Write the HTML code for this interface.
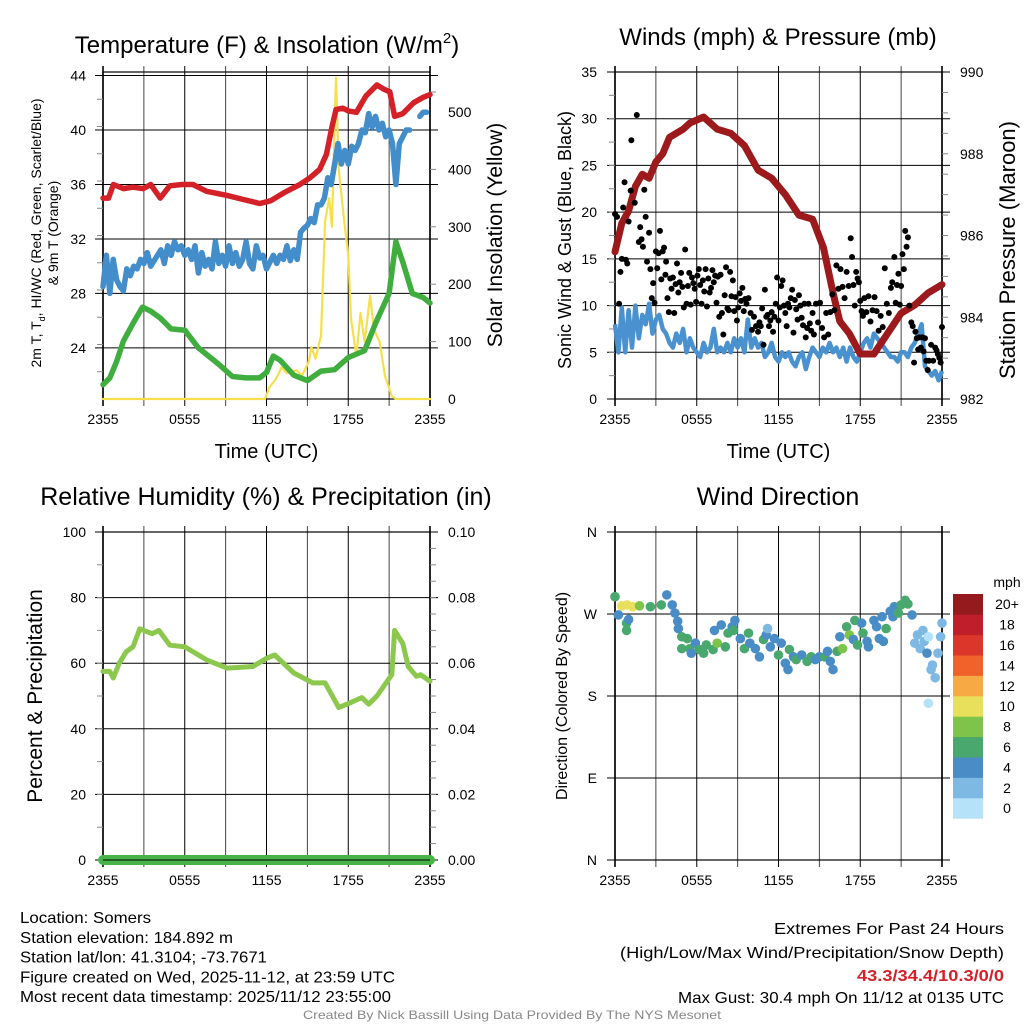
<!DOCTYPE html>
<html><head><meta charset="utf-8">
<style>
html,body{margin:0;padding:0;background:#fff;}
svg{display:block;font-family:"Liberation Sans",sans-serif;}
</style></head>
<body>
<svg id="fig" width="1024" height="1024" viewBox="0 0 1024 1024" xmlns="http://www.w3.org/2000/svg">
<g id="layer"></g>
</svg>
<script>
// ---------- Temperature panel data (hours since 2355 UTC) ----------
const redT = [0,0.4,0.76,1.5,2.2,2.96,3.5,4.2,4.9,5.8,6.6,7.6,9.1,10.3,11.5,12.3,13.3,14.45,15.2,15.9,16.4,16.8,17.1,17.6,18.0,18.6,19.3,20.1,20.6,21.05,21.4,22.0,22.8,23.5,24];
const redV = [35,35,36,35.7,35.8,35.7,36,35,35.9,36,36,35.5,35.2,34.9,34.6,34.8,35.4,36,36.5,37.1,38.2,40.2,41.5,41.6,41.4,41.3,42.5,43.3,43.0,42.8,41,41.2,42,42.4,42.6];
const blueTemp = [28.5,30.8,28,30.5,29,28.5,28.2,29.8,29.3,30,29.8,30.5,30.2,31,30,30.4,30.8,31.2,30.2,31.5,30.8,31.8,31.2,31.5,30.8,31.2,30.5,31.5,29.5,31,30,30.5,29.8,31.8,30.2,30.8,30,31.5,30.2,31,30,30.5,31.8,30.2,29.8,31.5,30.6,30.8,29.8,30.3,30.8,30.2,30.8,30.5,31.5,30.4,31.2,30.5,32.5,32.8,33,33.5,33.2,34.5,34.5,35,36.5,36,37.5,39,37.5,38.5,37.5,38.8,38.5,39,40,39.8,41.2,40.2,41,40,40.5,39.5,40,39,36,39,39.5,40,40,null,null,41,41.3,41.3,null];
const greenT = [0,0.5,1,1.5,2.2,2.9,3.5,4.2,5,6,7,8.5,9.5,10.5,11.5,12,12.5,13,14,15,16,17,18,19.2,20,21,21.5,22,22.7,23.5,24];
const greenV = [21.3,21.8,23,24.5,25.8,27,26.7,26.2,25.4,25.3,24,22.8,21.9,21.8,21.8,22.2,23.4,23.1,22,21.6,22.3,22.4,23.3,23.8,25.8,28,31.8,30.3,28,27.7,27.3];
const solarT = [0,11.9,12.2,12.7,13.1,13.5,14.2,14.6,15.1,15.3,15.6,16,16.3,16.6,16.8,17.1,17.3,17.7,18.0,18.2,18.6,18.9,19.2,19.6,19.9,20.3,20.7,21.2,21.5,24];
const solarV = [0,0,20,35,55,45,50,40,65,90,70,110,310,350,300,560,400,310,250,140,75,150,100,180,120,100,40,5,0,0];
const tempTicks = [24,28,32,36,40,44];
const solarTicks = [0,100,200,300,400,500];
const timeLabels = ["2355","0555","1155","1755","2355"];

// ---------- Winds panel data ----------
const presT = [0,0.5,1,1.5,2,2.5,3,3.5,4,5,5.5,6.5,7.5,8.5,9.5,10.5,11.5,12.5,13.5,14.5,15.3,16,16.5,17.2,18,19,20,21,22,23,24];
const presV = [985.6,986.3,986.6,987.2,987.5,987.4,987.8,988,988.4,988.6,988.75,988.9,988.6,988.5,988.2,987.6,987.4,987.0,986.5,986.4,985.7,984.6,983.9,983.6,983.1,983.1,983.6,984.1,984.3,984.6,984.8];
const windV = [8,5,9.8,5,9.5,5.5,10,6.5,9,8,10.2,7,8.5,9,7.5,7,6,5.5,7,6,7.5,5,6.5,5.5,5,4.5,6,5,5.5,7.5,5,5.5,5,6,5,6.5,5.5,6.5,5,8.5,5.5,6.5,5.5,6,4.5,5,6,4.5,4,5,4.5,5,4,3.5,4.5,5,3.2,4.5,5.5,5,4.5,5.5,5,6,5,5.5,4.5,5.5,4,5.5,4.5,4,5,6,6.5,5.5,7,6.5,6,5.5,5,4.5,4.5,4,5,5,4.5,5.5,6,7,8,3.5,3,2.5,3,2,3];
const gustT = [0,0.15,0.3,0.4,0.5,0.6,0.7,0.8,0.9,1.0,1.15,1.2,1.45,1.6,1.75,1.85,1.95,2.05,2.15,2.25,2.35,2.5,2.6,2.7,2.8,2.9,3.0,3.1,3.2,3.3,3.4,3.5,3.6,3.7,3.75,3.85,3.95,4.05,4.15,4.25,4.35,4.45,4.55,4.65,4.75,4.85,4.95,5.05,5.15,5.25,5.35,5.45,5.55,5.65,5.75,5.85,5.95,6.05,6.15,6.25,6.35,6.45,6.55,6.65,6.75,6.85,6.95,7.05,7.15,7.25,7.35,7.45,7.55,7.65,7.75,7.85,7.95,8.05,8.15,8.25,8.35,8.45,8.55,8.65,8.75,8.85,8.95,9.05,9.15,9.25,9.35,9.45,9.55,9.65,9.8,9.95,10.05,10.2,10.35,10.5,10.6,10.7,10.8,10.9,11.0,11.1,11.2,11.3,11.4,11.5,11.6,11.7,11.8,11.9,12.0,12.1,12.2,12.3,12.4,12.5,12.6,12.7,12.8,12.9,13.0,13.1,13.2,13.3,13.4,13.5,13.6,13.7,13.8,13.9,14.0,14.1,14.2,14.3,14.4,14.5,14.6,14.75,14.9,15.05,15.2,15.35,15.5,15.65,15.8,15.95,16.1,16.25,16.4,16.55,16.7,16.85,17.0,17.15,17.3,17.4,17.5,17.6,17.7,17.8,17.9,18.0,18.1,18.2,18.3,18.45,18.6,18.75,18.9,19.05,19.2,19.35,19.5,19.65,19.8,19.95,20.1,20.25,20.35,20.5,20.6,20.7,20.8,20.9,21.0,21.1,21.2,21.3,21.4,21.5,21.6,21.75,21.85,21.95,22.05,22.15,22.25,22.35,22.45,22.55,22.65,22.75,22.85,22.95,23.05,23.2,23.35,23.5,23.6,23.7,23.8,23.9,24.0];
const gustV = [19.8,19.5,10.2,13.6,15,20.5,23.2,14.9,14.5,19,22.3,27.7,21,30.4,16.8,18.4,17.1,16.3,22.4,19.5,14.7,17.8,13.9,10.8,12.4,10.3,15.8,14,15.6,18,12.8,15.8,16.2,13.3,14.7,10.8,9.3,12.9,11.8,13,9.2,12.3,14.5,11.4,12.5,13.5,12,9.8,16,10.2,12.1,13.5,10.1,13,12.4,11.8,10.4,13.2,13.9,12.2,10.2,12.7,11.5,13.9,9.9,12.9,11.4,11.9,13.8,12.5,13.2,10.3,13.1,8.8,13.3,9.2,6.9,11.1,14.1,9.7,9.5,13.6,11,12.7,9.4,10.9,8.4,9.8,11.3,10.5,11.9,9.4,10.7,10.2,10.8,9.2,7.4,8.8,7.8,7.2,8.2,7.8,9.7,5.8,11.7,8.8,9,7.8,8.4,9.3,7.2,8.8,10.2,13,8.4,9.8,12.1,12.7,10,9.2,7.8,10.2,9.8,10.8,11.7,7.1,10.6,9.6,8.5,11.1,10,8.7,7.9,10.2,6.6,7.6,10.2,8.1,7.3,9.2,6.9,10.2,8.2,10.3,7.6,6.6,9.2,6.9,9.3,11.2,9.5,14.3,11.8,13.9,12,10.8,13.6,12.1,17.2,15.2,12.2,10,13.6,12.9,12.5,10.5,9.4,8.9,10.8,9.3,11,8.3,9.5,10.9,9.4,7.3,8.9,7.7,14,10.2,9.2,11.9,12.5,15.2,10.3,12.2,13.4,10.1,12.1,15.5,13.9,18,16.3,17.3,10,8.2,7.8,3.9,7.2,6.5,5.3,6.6,5.5,6.6,5.1,6.5,4.1,3.1,4.1,5.8,4.1,5.5,5.2,4.8,4.4,3.9,7.7];
const windTicks = [0,5,10,15,20,25,30,35];
const presTicks = [982,984,986,988,990];

// ---------- RH panel data ----------
const rhT = [0,0.5,0.75,1.2,1.7,2.2,2.7,3.6,4.1,4.9,6,7.6,9.1,11,12,12.6,14,15.4,16.3,17.3,17.9,19,19.5,20.1,21.2,21.4,22,22.4,23,23.3,24];
const rhV = [57.5,57.5,55.5,60,63.5,65,70.5,69,70,65.5,65,61,58.5,59,61.5,62.5,57,54,54,46.5,47.5,49.5,47.5,50,56.5,70,66,59,56,56.5,54.5];
const precipT = [0,24];
const precipV = [0,0];
const rhTicks = [0,20,40,60,80,100];
const precipTicks = ["0.00","0.02","0.04","0.06","0.08","0.10"];

// ---------- Wind direction data ----------
const dirT = [0,0.25,0.85,0.85,1.0,0.5,0.9,1.3,1.8,2.6,3.4,3.8,4.2,4.4,4.6,4.65,4.9,5.3,4.9,5.5,5.6,5.9,6.2,6.5,6.7,7.2,7.5,7.3,7.8,8.1,8.3,8.6,8.8,8.7,9.2,9.5,9.8,9.9,10.3,10.6,10.9,11.1,11.2,11.4,11.7,12.0,12.2,12.5,12.7,12.8,13.1,13.3,13.7,14.1,14.4,14.7,15.0,15.4,15.6,15.8,16.0,16.3,16.5,16.7,17.0,17.2,17.6,17.5,17.8,18.1,18.2,18.5,18.6,19.0,19.2,19.4,19.6,19.7,19.9,20.2,20.4,20.5,20.8,21.0,21.3,21.5,21.8,22.0,22.2,22.4,22.6,22.7,22.9,23.0,23.0,23.2,23.3,23.5,23.7,23.9,24];
const dirV = [289,269,260,252,264,279,280,278,279,278,280,291,280,271,262,254,245,243,232,232,227,238,231,227,236,231,238,252,258,234,249,256,263,252,243,232,249,238,232,223,242,247,254,234,243,225,238,216,209,231,223,220,225,218,223,220,223,223,229,218,209,229,245,232,256,247,263,242,236,260,249,240,234,263,256,243,267,240,254,273,267,278,271,280,285,281,269,238,247,232,252,240,227,245,172,209,214,200,227,245,260];
const dirSpd = [7,5,7,7,5,11,11,11,9,7,7,5,5,5,5,5,7,7,7,7,5,5,7,7,7,7,9,5,5,7,7,5,5,7,5,7,7,5,5,5,7,5,3,5,5,7,5,5,5,7,5,7,5,7,7,5,5,7,5,5,5,7,5,9,7,9,7,5,7,5,7,5,5,5,5,5,5,5,7,5,5,5,7,7,7,7,5,3,3,3,3,3,5,1,1,3,3,3,3,3,3];
const dirTicks = ["N","E","S","W","N"];
const cbarLabels = ["0","2","4","6","8","10","12","14","16","18","20+"];
const cbarColors = ["#b5e2f8","#7db9e3","#4a8dc6","#48a86e","#7ec34a","#e8e05a","#f7a944","#f0622a","#dc3529","#bf1e2a","#941a1e"];

// ---------- rendering ----------
const NS = "http://www.w3.org/2000/svg";
const root = document.getElementById("layer");
function mk(tag, attrs, parent, text) {
  const el = document.createElementNS(NS, tag);
  for (const k in attrs) el.setAttribute(k, attrs[k]);
  if (text !== undefined) el.textContent = text;
  (parent || root).appendChild(el);
  return el;
}
function scale(d0, d1, r0, r1) { return v => r0 + (v - d0) * (r1 - r0) / (d1 - d0); }
function pathFrom(ts, vs, sx, sy) {
  let d = "", pen = false;
  for (let i = 0; i < vs.length; i++) {
    if (vs[i] === null) { pen = false; continue; }
    d += (pen ? "L" : "M") + sx(ts[i]).toFixed(1) + "," + sy(vs[i]).toFixed(1);
    pen = true;
  }
  return d;
}
function idxTimes(n) { const a = []; for (let i = 0; i < n; i++) a.push(i * 24 / (n - 1)); return a; }

function frame(g, x0, x1, y0, y1, hLines) {
  for (let i = 0; i <= 8; i++) {
    const x = x0 + (x1 - x0) * i / 8;
    const l = mk("line", {x1:x, x2:x, y1:y0 - 6, y2:y1 + 7, stroke: (i%2===0)?"#000":"#444", "stroke-width": (i===0||i===8)?1.6:1}, g);
    
    
  }
  hLines.forEach(y => {
    const l = mk("line", {x1:x0 - 8, x2:x1 + 8, y1:y, y2:y, stroke:"#000", "stroke-width":1}, g);
    
    
  });
  const r = mk("rect", {x:x0, y:y0, width:x1 - x0, height:y1 - y0, fill:"none", stroke:"#000", "stroke-width":1.2}, g);
  
  
}
function minorTicks(g, x, y0, y1, n, dir) {
  for (let i = 1; i < n; i++) {
    const y = y0 + (y1 - y0) * i / n;
    mk("line", {x1:x, x2:x + dir * 6, y1:y, y2:y, stroke:"#888", "stroke-width":1}, g);
  }
}
function label(g, x, y, txt, opts, name) {
  const a = Object.assign({x:x, y:y, "font-size":14, fill:"#000", "text-anchor":"middle"}, opts || {});
  const t = mk("text", a, g, txt);
  
  
  return t;
}
function timeAxis(g, x0, x1, yl, withTitle, ytitle) {
  timeLabels.forEach((s, i) => label(g, x0 + (x1 - x0) * i / 4, yl, s, {"font-size":14}, "x-tick-label"));
  if (withTitle) label(g, (x0 + x1) / 2, ytitle, "Time (UTC)", {"font-size":20}, "x-axis-title");
}

// ===== Panel 1: Temperature =====
(function(){
  const g = mk("g", {});  
  const X0 = 103, X1 = 430, Y0 = 72, Y1 = 399;
  const sx = scale(0, 24, X0, X1);
  const sy = scale(44, 20.25, 75.5, Y1);
  const sS = scale(0, 500, Y1, 112);
  frame(g, X0, X1, Y0, Y1, tempTicks.map(sy));
  minorTicks(g, X0, Y0, Y1, 12, -1);
  minorTicks(g, X1, Y1, 112, 5, 1);
  minorTicks(g, X1, 112, Y0, 2, 1);
  tempTicks.forEach(v => label(g, 86, sy(v) + 5, String(v), {"text-anchor":"end"}, "y-tick-label"));
  solarTicks.forEach(v => label(g, 448, sS(v) + 5, String(v), {"text-anchor":"start"}, "y2-tick-label"));
  const series = [
    [solarT, solarV, "#f7df4c", 2.2, sS, "solar-insolation-line"],
    [greenT, greenV, "#3fae3f", 5.5, sy, "dewpoint-line"],
    [idxTimes(blueTemp.length), blueTemp, "#428dca", 5.5, sy, "windchill-line"],
    [redT, redV, "#d42128", 5.5, sy, "temperature-line"]
  ];
  series.forEach(s => {
    const p = mk("path", {d: pathFrom(s[0], s[1], sx, s[4]), fill:"none", stroke:s[2], "stroke-width":s[3], "stroke-linejoin":"round", "stroke-linecap":"round"}, g);
    
    
  });
  const t = label(g, 267, 53, "", {"font-size":24}, "temperature-title");
  t.innerHTML = 'Temperature (F) &amp; Insolation (W/m<tspan dy="-10" font-size="15">2</tspan><tspan dy="10">)</tspan>';
  const yl = label(g, 0, 0, "", {"font-size":14, transform:"translate(41,233) rotate(-90)"}, "y-axis-title");
  yl.innerHTML = '2m T, T<tspan dy="4" font-size="9">d</tspan><tspan dy="-4">, HI/WC (Red, Green, Scarlet/Blue)</tspan>';
  label(g, 0, 0, "& 9m T (Orange)", {"font-size":14, transform:"translate(58,233) rotate(-90)"}, "y-axis-title-2");
  label(g, 0, 0, "Solar Insolation (Yellow)", {"font-size":21, transform:"translate(502,235) rotate(-90)"}, "y2-axis-title");
  timeAxis(g, X0, X1, 424, true, 458);
})();

// ===== Panel 2: Winds & Pressure =====
(function(){
  const g = mk("g", {});  
  const X0 = 615, X1 = 942, Y0 = 72, Y1 = 399;
  const sx = scale(0, 24, X0, X1);
  const sy = scale(0, 35, Y1, Y0);
  const sp = scale(982, 990, Y1, Y0);
  frame(g, X0, X1, Y0, Y1, windTicks.map(sy));
  minorTicks(g, X0, Y0, Y1, 14, -1);
  minorTicks(g, X1, Y1, Y0, 16, 1);
  windTicks.forEach(v => label(g, 597, sy(v) + 5, String(v), {"text-anchor":"end"}, "y-tick-label"));
  presTicks.forEach(v => label(g, 960, sp(v) + 5, String(v), {"text-anchor":"start"}, "y2-tick-label"));
  const wp = mk("path", {d: pathFrom(idxTimes(windV.length), windV, sx, sy), fill:"none", stroke:"#4a92cf", "stroke-width":4.5, "stroke-linejoin":"round"}, g);
  
  
  const pp = mk("path", {d: pathFrom(presT, presV, sx, sp), fill:"none", stroke:"#9c1a1c", "stroke-width":7, "stroke-linejoin":"round", "stroke-linecap":"round"}, g);
  
  
  for (let i = 0; i < gustT.length; i++) {
    const c = mk("circle", {cx: sx(gustT[i]), cy: sy(gustV[i]), r: 3, fill:"#000"}, g);
    
    
  }
  label(g, 778, 45, "Winds (mph) & Pressure (mb)", {"font-size":24}, "winds-title");
  label(g, 0, 0, "Sonic Wind & Gust (Blue, Black)", {"font-size":18, transform:"translate(571,240) rotate(-90)"}, "y-axis-title");
  label(g, 0, 0, "Station Pressure (Maroon)", {"font-size":22, transform:"translate(1015,250) rotate(-90)"}, "y2-axis-title");
  timeAxis(g, X0, X1, 424, true, 458);
})();

// ===== Panel 3: RH & Precip =====
(function(){
  const g = mk("g", {});  
  const X0 = 103, X1 = 430, Y0 = 532, Y1 = 860;
  const sx = scale(0, 24, X0, X1);
  const sy = scale(0, 100, Y1, Y0);
  const sp = scale(0, 0.1, Y1, Y0);
  frame(g, X0, X1, Y0, Y1, rhTicks.map(sy));
  minorTicks(g, X0, Y0, Y1, 10, -1);
  minorTicks(g, X1, Y1, Y0, 20, 1);
  rhTicks.forEach(v => label(g, 86, sy(v) + 5, String(v), {"text-anchor":"end"}, "y-tick-label"));
  precipTicks.forEach(v => label(g, 448, sp(parseFloat(v)) + 5, v, {"text-anchor":"start"}, "y2-tick-label"));
  const rp = mk("path", {d: pathFrom(rhT, rhV, sx, sy), fill:"none", stroke:"#8cc84e", "stroke-width":5, "stroke-linejoin":"round", "stroke-linecap":"round"}, g);
  
  
  const pr = mk("path", {d: pathFrom(precipT, precipV, sx, sp), fill:"none", stroke:"#47b348", "stroke-width":10, "stroke-linecap":"round"}, g);
  
  
  mk("line", {x1:X0, x2:X1, y1:Y1, y2:Y1, stroke:"#000", "stroke-width":1}, g);
  label(g, 266, 505, "Relative Humidity (%) & Precipitation (in)", {"font-size":25}, "humidity-title");
  label(g, 0, 0, "Percent & Precipitation", {"font-size":21, transform:"translate(42,696) rotate(-90)"}, "y-axis-title");
  timeAxis(g, X0, X1, 885, false, 0);
})();

// ===== Panel 4: Wind Direction =====
(function(){
  const g = mk("g", {});  
  const X0 = 615, X1 = 942, Y0 = 532, Y1 = 860;
  const sx = scale(0, 24, X0, X1);
  const sy = scale(0, 360, Y1, Y0);
  frame(g, X0, X1, Y0, Y1, [0,90,180,270,360].map(sy));
  dirTicks.forEach((s, i) => label(g, 597, sy(i * 90) + 5, s, {"text-anchor":"end"}, "y-tick-label"));
  function col(s) { return cbarColors[Math.min(10, Math.floor(s / 2))]; }
  for (let i = 0; i < dirT.length; i++) {
    const c = mk("circle", {cx: sx(dirT[i]), cy: sy(dirV[i]), r: 4.8, fill: col(dirSpd[i])}, g);
    
    
  }
  label(g, 778, 505, "Wind Direction", {"font-size":25}, "wind-direction-title");
  label(g, 0, 0, "Direction (Colored By Speed)", {"font-size":16, transform:"translate(567,696) rotate(-90)"}, "y-axis-title");
  timeAxis(g, X0, X1, 885, false, 0);
  const cb = mk("g", {}, g);  
  const top = 594, h = 20.4;
  for (let i = 0; i < cbarColors.length; i++) {
    const y = top + (cbarColors.length - 1 - i) * h;
    const r = mk("rect", {x:953, y:y, width:30, height:h + 0.3, fill:cbarColors[i]}, cb);
    
    
    label(cb, 1007, y + h / 2 + 5, cbarLabels[i], {"font-size":14}, "colorbar-label");
  }
  label(cb, 1007, 587, "mph", {"font-size":14}, "colorbar-title");
})();

// ===== Footer text =====
(function(){
  const g = mk("g", {});  
  const left = ["Location: Somers","Station elevation: 184.892 m","Station lat/lon: 41.3104; -73.7671","Figure created on Wed, 2025-11-12, at 23:59 UTC","Most recent data timestamp: 2025/11/12 23:55:00"];
  const leftW = [131,213,247,375,371];
  left.forEach((s, i) => label(g, 20, 923 + i * 19.8, s, {"text-anchor":"start", "font-size":16, textLength:leftW[i], lengthAdjust:"spacingAndGlyphs"}, "station-info-line"));
  label(g, 1004, 934, "Extremes For Past 24 Hours", {"text-anchor":"end", "font-size":16, textLength:230, lengthAdjust:"spacingAndGlyphs"}, "extremes-heading");
  label(g, 1004, 958, "(High/Low/Max Wind/Precipitation/Snow Depth)", {"text-anchor":"end", "font-size":16, textLength:384, lengthAdjust:"spacingAndGlyphs"}, "extremes-legend");
  label(g, 1004, 981, "43.3/34.4/10.3/0/0", {"text-anchor":"end", "font-size":16, "font-weight":"bold", fill:"#d42128", textLength:147, lengthAdjust:"spacingAndGlyphs"}, "extremes-values");
  label(g, 1004, 1003, "Max Gust: 30.4 mph On 11/12 at 0135 UTC", {"text-anchor":"end", "font-size":16, textLength:326, lengthAdjust:"spacingAndGlyphs"}, "max-gust");
  label(g, 512, 1019, "Created By Nick Bassill Using Data Provided By The NYS Mesonet", {"font-size":12, fill:"#888", textLength:418, lengthAdjust:"spacingAndGlyphs"}, "credit");
})();
</script>
</body></html>
